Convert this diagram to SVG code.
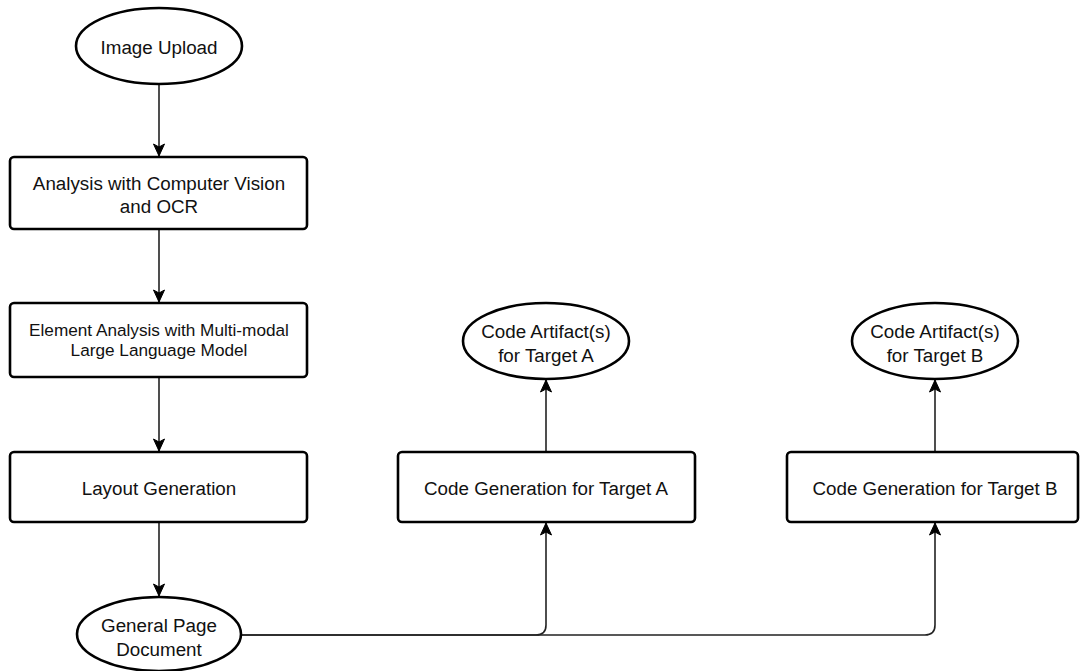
<svg xmlns="http://www.w3.org/2000/svg" width="1080" height="671" viewBox="0 0 1080 671">
  <style>
    .shape { fill: #ffffff; stroke: #000000; stroke-width: 2.6; }
    .label { font-family: "Liberation Sans", Arial, sans-serif; font-size: 18.8px; fill: #111111; text-anchor: middle; }
    .small { font-size: 17.2px; }
    .edge { fill: none; stroke: #222222; stroke-width: 1.6; }
  </style>
  <defs>
    <marker id="arrow" viewBox="0 0 14 14" refX="13" refY="7" markerWidth="14" markerHeight="14" markerUnits="userSpaceOnUse" orient="auto">
      <path d="M 1 1.5 L 13 7 L 1 12.5 L 4 7 Z" fill="#000000" stroke="#000000" stroke-width="1"/>
    </marker>
  </defs>

  <rect width="1080" height="671" fill="#ffffff"/>

  <!-- connectors -->
  <g id="connectors">
    <path class="edge" d="M 159 84 V 156" marker-end="url(#arrow)"/>
    <path class="edge" d="M 159 229 V 302" marker-end="url(#arrow)"/>
    <path class="edge" d="M 159 377 V 451" marker-end="url(#arrow)"/>
    <path class="edge" d="M 159 522 V 596" marker-end="url(#arrow)"/>
    <path class="edge" d="M 242 635 H 536 Q 546 635 546 625 V 523" marker-end="url(#arrow)"/>
    <path class="edge" d="M 242 635 H 925 Q 935 635 935 625 V 523" marker-end="url(#arrow)"/>
    <path class="edge" d="M 546 452 V 380" marker-end="url(#arrow)"/>
    <path class="edge" d="M 935 452 V 380" marker-end="url(#arrow)"/>
  </g>

  <!-- nodes -->
  <g id="image-upload">
    <ellipse class="shape" cx="159" cy="46" rx="83" ry="38"/>
    <text class="label" x="159" y="54">Image Upload</text>
  </g>

  <g id="cv-ocr">
    <rect class="shape" x="10" y="157" width="297" height="72" rx="4"/>
    <text class="label" x="159" y="190">Analysis with Computer Vision</text>
    <text class="label" x="159" y="213">and OCR</text>
  </g>

  <g id="element-analysis">
    <rect class="shape" x="10" y="303" width="297" height="74" rx="4"/>
    <text class="label small" x="159" y="336">Element Analysis with Multi-modal</text>
    <text class="label small" x="159" y="356">Large Language Model</text>
  </g>

  <g id="layout-generation">
    <rect class="shape" x="10" y="452" width="297" height="70" rx="4"/>
    <text class="label" x="159" y="495">Layout Generation</text>
  </g>

  <g id="general-page-document">
    <ellipse class="shape" cx="159" cy="634" rx="82" ry="37"/>
    <text class="label" x="159" y="632">General Page</text>
    <text class="label" x="159" y="656">Document</text>
  </g>

  <g id="code-gen-a">
    <rect class="shape" x="398" y="452" width="297" height="70" rx="4"/>
    <text class="label" x="546" y="495">Code Generation for Target A</text>
  </g>

  <g id="artifact-a">
    <ellipse class="shape" cx="546" cy="341" rx="83" ry="38"/>
    <text class="label" x="546" y="338">Code Artifact(s)</text>
    <text class="label" x="546" y="362">for Target A</text>
  </g>

  <g id="code-gen-b">
    <rect class="shape" x="787" y="452" width="291" height="70" rx="4"/>
    <text class="label" x="935" y="495">Code Generation for Target B</text>
  </g>

  <g id="artifact-b">
    <ellipse class="shape" cx="935" cy="341" rx="83" ry="38"/>
    <text class="label" x="935" y="338">Code Artifact(s)</text>
    <text class="label" x="935" y="362">for Target B</text>
  </g>
</svg>
